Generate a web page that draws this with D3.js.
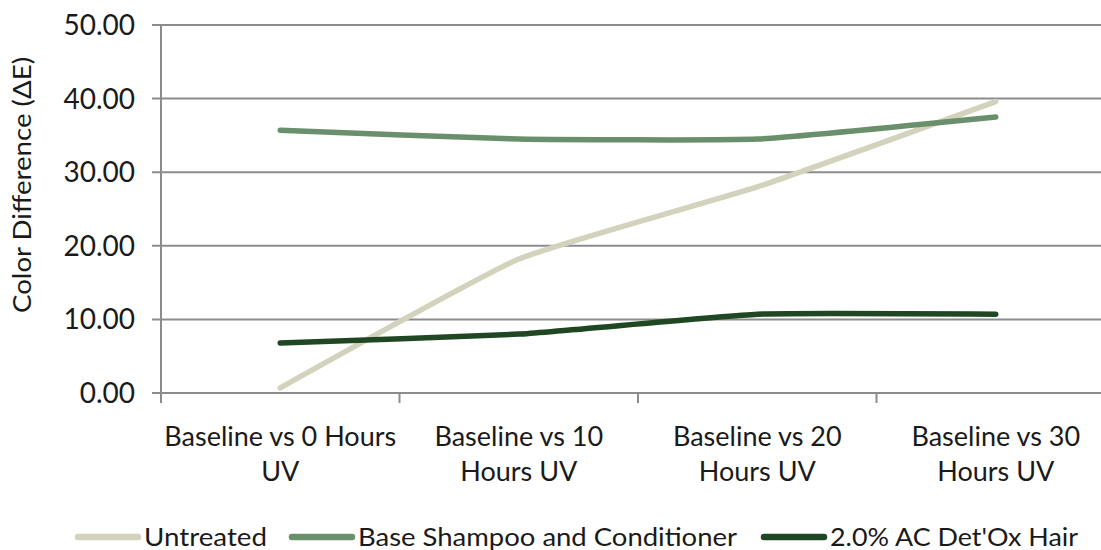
<!DOCTYPE html>
<html>
<head>
<meta charset="utf-8">
<script src="https://cdn.jsdelivr.net/npm/d3@7"></script>
<style>
  body { margin: 0; background: #fff; }
  text { font-family: Lato, "Open Sans", sans-serif; fill: #1a1a1a; }
</style>
</head>
<body>
<div id="chart"></div>
<script>
const CATEGORIES = [
    ["Baseline vs 0 Hours", "UV"],
    ["Baseline vs 10", "Hours UV"],
    ["Baseline vs 20", "Hours UV"],
    ["Baseline vs 30", "Hours UV"]
];
const SERIES_NAMES = ["Untreated", "Base Shampoo and Conditioner", "2.0% AC Det'Ox Hair"];
const UNTREATED = [0.7, 18.2, 28.0, 39.6];
const BASE = [35.7, 34.5, 34.5, 37.5];
const DETOX = [6.8, 8.0, 10.7, 10.7];
const Y_TICKS = [0, 10, 20, 30, 40, 50];
const COLORS = ["#d3d2bc", "#6a8f6c", "#1f4723"];

const width = 1101, height = 550;
const margin = { top: 25, right: -14, bottom: 157, left: 161 };
const innerW = width - margin.left - margin.right;
const innerH = height - margin.top - margin.bottom;

const svg = d3.select("#chart").append("svg")
    .attr("width", width)
    .attr("height", height);

const g = svg.append("g").attr("transform", `translate(${margin.left},${margin.top})`);

const x = d3.scaleBand().domain(d3.range(CATEGORIES.length)).range([0, innerW]);
const y = d3.scaleLinear().domain([0, 50]).range([innerH, 0]);

// gridlines
g.selectAll("line.grid")
    .data(Y_TICKS)
    .enter().append("line")
    .attr("x1", -9).attr("x2", innerW)
    .attr("y1", d => y(d)).attr("y2", d => y(d))
    .attr("stroke", "#8c8c8c")
    .attr("stroke-width", 2);

// y axis line
g.append("line")
    .attr("x1", 0).attr("x2", 0)
    .attr("y1", 0).attr("y2", innerH + 9)
    .attr("stroke", "#8c8c8c")
    .attr("stroke-width", 2);

g.selectAll("text.ytick")
    .data(Y_TICKS)
    .enter().append("text")
    .attr("x", -26)
    .attr("y", d => y(d))
    .attr("dy", "0.36em")
    .attr("text-anchor", "end")
    .style("font-size", "28px")
    .text(d => d3.format(".2f")(d));

// x ticks
const xTicks = d3.range(CATEGORIES.length + 1).map(i => i * x.bandwidth());
g.selectAll("line.xtick")
    .data(xTicks)
    .enter().append("line")
    .attr("x1", d => d).attr("x2", d => d)
    .attr("y1", innerH).attr("y2", innerH + 10)
    .attr("stroke", "#8c8c8c")
    .attr("stroke-width", 2);

CATEGORIES.forEach((lines, i) => {
    const t = g.append("text")
        .attr("x", x(i) + x.bandwidth() / 2)
        .attr("y", innerH + 53)
        .attr("text-anchor", "middle")
        .style("font-size", "27px");
    lines.forEach((s, j) => {
        t.append("tspan")
            .attr("x", x(i) + x.bandwidth() / 2)
            .attr("dy", j === 0 ? 0 : 35)
            .text(s);
    });
});

// y title
svg.append("text")
    .attr("transform", `translate(31,185) rotate(-90)`)
    .attr("text-anchor", "middle")
    .attr("textLength", 256)
    .attr("lengthAdjust", "spacingAndGlyphs")
    .style("font-size", "25px")
    .text("Color Difference (ΔE)");

// lines
const line = d3.line()
    .x((d, i) => x(i) + x.bandwidth() / 2)
    .y(d => y(d))
    .curve(d3.curveCardinal.tension(0.6));

[UNTREATED, BASE, DETOX].forEach((vals, k) => {
    g.append("path")
        .datum(vals)
        .attr("fill", "none")
        .attr("stroke", COLORS[k])
        .attr("stroke-width", 5.5)
        .attr("stroke-linecap", "round")
        .attr("stroke-linejoin", "round")
        .attr("d", line);
});

// legend
const legendItems = [
    { name: SERIES_NAMES[0], x0: 78, color: COLORS[0], tw: 123 },
    { name: SERIES_NAMES[1], x0: 292, color: COLORS[1], tw: 379 },
    { name: SERIES_NAMES[2], x0: 764, color: COLORS[2], tw: 248 }
];
const lg = svg.append("g").attr("transform", "translate(0,537)");
legendItems.forEach(it => {
    lg.append("line")
        .attr("x1", it.x0).attr("x2", it.x0 + 60)
        .attr("y1", 0).attr("y2", 0)
        .attr("stroke", it.color)
        .attr("stroke-width", 6.5)
        .attr("stroke-linecap", "round");
    lg.append("text")
        .attr("x", it.x0 + 66)
        .attr("y", 0)
        .attr("dy", "0.35em")
        .attr("textLength", it.tw)
        .attr("lengthAdjust", "spacingAndGlyphs")
        .style("font-size", "25px")
        .text(it.name);
});
</script>
</body>
</html>
